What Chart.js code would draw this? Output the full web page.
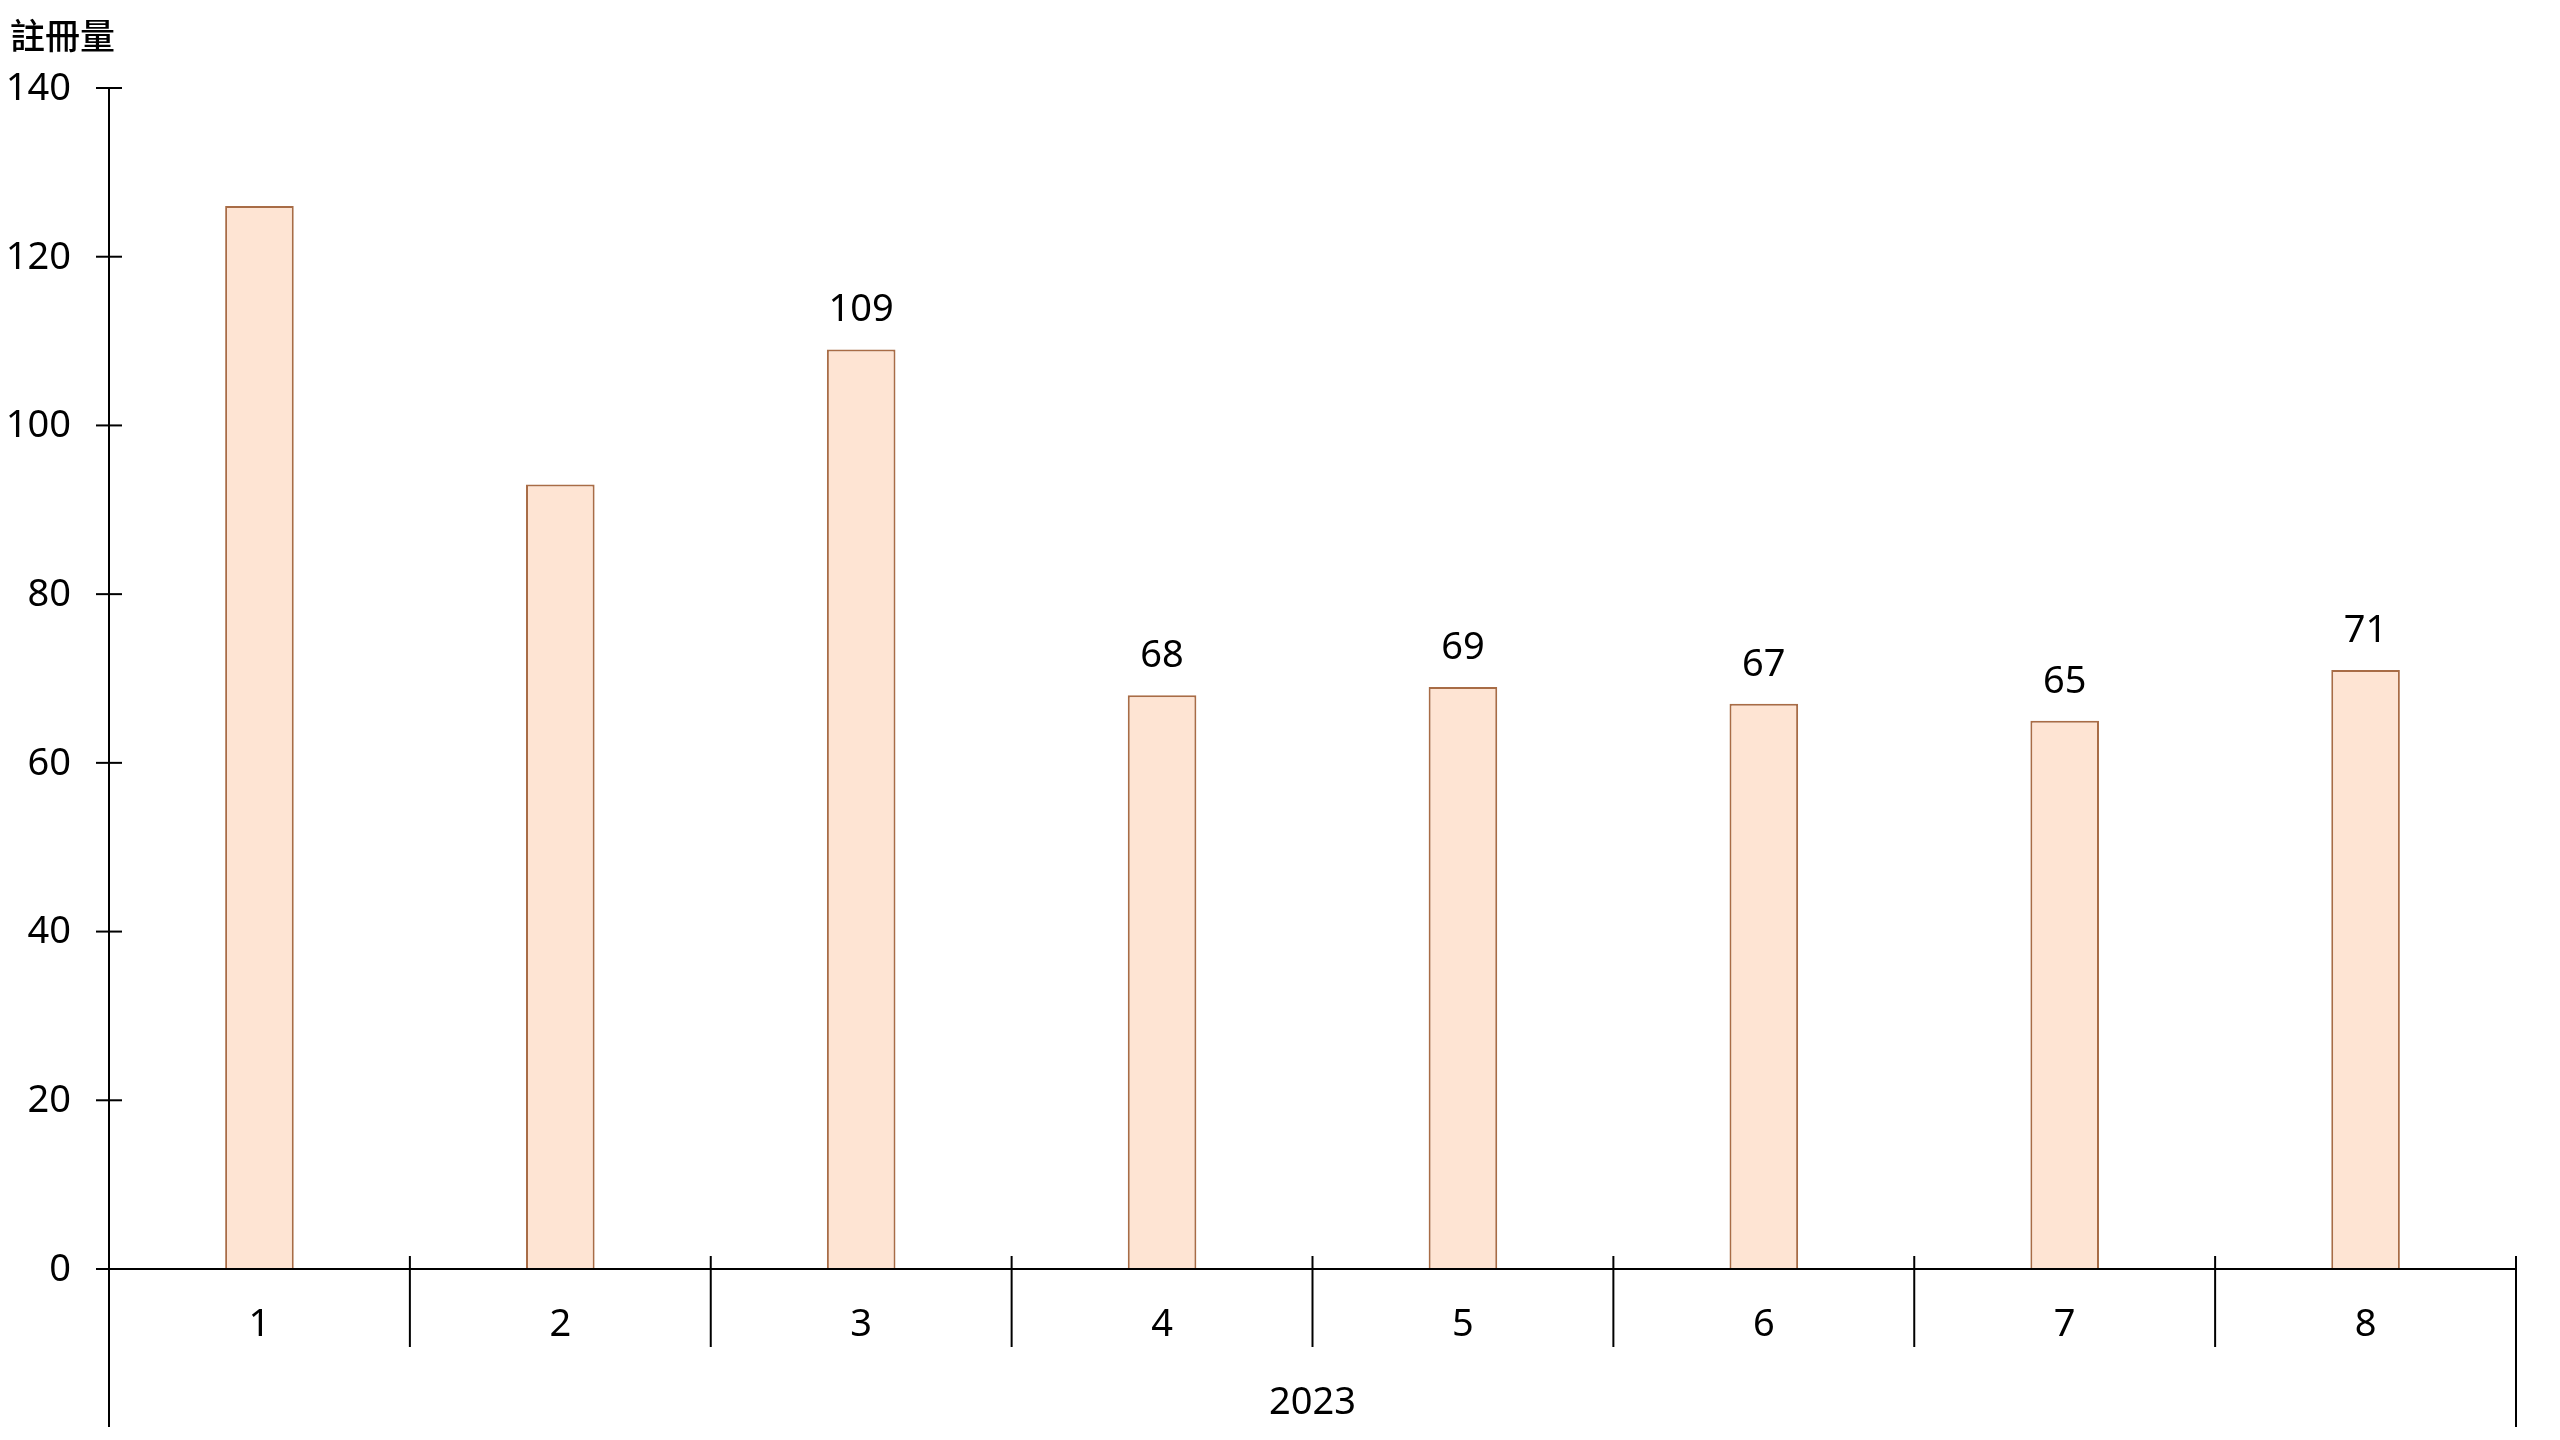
<!DOCTYPE html>
<html>
<head>
<meta charset="utf-8">
<script src="https://cdn.jsdelivr.net/npm/chart.js@4.4.0/dist/chart.umd.min.js"></script>
<style>
html,body{margin:0;padding:0;background:#fff;}
#wrap{width:2560px;height:1440px;}
</style>
</head>
<body>
<div id="wrap"><canvas id="c" width="2560" height="1440"></canvas></div>
<script>
const categories = ['1','2','3','4','5','6','7','8'];
const values = [126, 93, 109, 68, 69, 67, 65, 71];
const labelShown = [false, false, true, true, true, true, true, true];
const yTicks = [0, 20, 40, 60, 80, 100, 120, 140];
const groupLabel = '2023';
const yTitle = '註冊量';

const FONT = '"Noto Sans", "Noto Sans CJK TC", sans-serif';

const axesPlugin = {
  id: 'axesPlugin',
  afterDatasetsDraw(chart) {
    const ctx = chart.ctx;
    const ca = chart.chartArea;
    const xs = chart.scales.x, ys = chart.scales.y;
    const y0 = ys.getPixelForValue(0);
    ctx.save();
    ctx.strokeStyle = '#000';
    ctx.lineWidth = 2;
    ctx.fillStyle = '#000';
    // y axis line
    ctx.beginPath();
    ctx.moveTo(ca.left, ca.top);
    ctx.lineTo(ca.left, 1427);
    ctx.stroke();
    // y ticks and labels
    ctx.font = '38px ' + FONT;
    ctx.textAlign = 'right';
    ctx.textBaseline = 'middle';
    yTicks.forEach(v => {
      const py = ys.getPixelForValue(v);
      ctx.beginPath();
      ctx.moveTo(ca.left - 13, py);
      ctx.lineTo(ca.left + 13, py);
      ctx.stroke();
      ctx.fillText(String(v), 71, py + 1);
    });
    // x axis line
    ctx.beginPath();
    ctx.moveTo(ca.left - 13, y0);
    ctx.lineTo(ca.right, y0);
    ctx.stroke();
    // separators
    for (let i = 0; i < categories.length - 1; i++) {
      const px = (xs.getPixelForValue(i) + xs.getPixelForValue(i + 1)) / 2;
      ctx.beginPath();
      ctx.moveTo(px, y0 - 13);
      ctx.lineTo(px, y0 + 78);
      ctx.stroke();
    }
    ctx.beginPath();
    ctx.moveTo(ca.right, y0 - 13);
    ctx.lineTo(ca.right, 1427);
    ctx.stroke();
    // category labels
    ctx.textAlign = 'center';
    categories.forEach((c, i) => {
      ctx.fillText(c, xs.getPixelForValue(i), y0 + 56);
    });
    ctx.fillText(groupLabel, (ca.left + ca.right) / 2, y0 + 134);
    // data labels
    const meta = chart.getDatasetMeta(0);
    meta.data.forEach((bar, i) => {
      if (labelShown[i]) ctx.fillText(String(values[i]), bar.x, bar.y - 39);
    });
    // y title
    ctx.textAlign = 'left';
    ctx.font = '500 35px ' + FONT;
    ctx.fillText(yTitle, 10, 39);
    ctx.restore();
  }
};

new Chart(document.getElementById('c'), {
  type: 'bar',
  data: {
    labels: categories,
    datasets: [{
      data: values,
      backgroundColor: '#FEE4D3',
      borderColor: '#A86C46',
      borderWidth: 2,
      borderSkipped: 'bottom',
      barPercentage: 0.228,
      categoryPercentage: 1
    }]
  },
  options: {
    responsive: false,
    animation: false,
    devicePixelRatio: 1,
    layout: { padding: { left: 109, right: 44, top: 88, bottom: 171 } },
    plugins: { legend: { display: false }, tooltip: { enabled: false } },
    scales: {
      x: { display: false, offset: true },
      y: { display: false, min: 0, max: 140 }
    }
  },
  plugins: [axesPlugin]
});
</script>
</body>
</html>
